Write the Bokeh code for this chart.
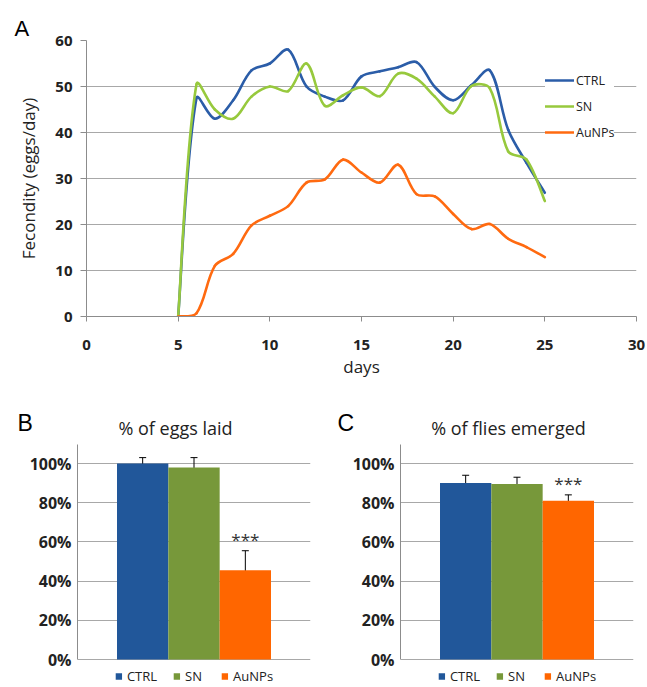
import math
from bokeh.plotting import figure
from bokeh.models import (Range1d, FactorRange, Legend, LegendItem, Whisker, Title, Label,
                          ColumnDataSource, FixedTicker, NumeralTickFormatter)
from bokeh.layouts import column, row
from bokeh.embed import file_html
from bokeh.resources import INLINE
from bokeh.core.properties import value

# ---------------- data ----------------
days = list(range(5, 26))
ctrl = [0, 47.5, 43, 47, 53.5, 55, 58, 50, 47.8, 47, 52.2, 53.3, 54.2, 55.3, 49.9, 47, 50.3, 53.5, 40.6, 33.4, 26.9]
sn = [0, 50.5, 45, 43, 47.8, 50, 49, 55, 45.8, 48.1, 49.8, 47.9, 52.8, 51.7, 47.8, 44.2, 50.1, 49.6, 35.9, 34.1, 25.1]
aunps = [0, 0.7, 11, 13.6, 19.8, 21.9, 24, 29.1, 29.8, 34.1, 31.3, 29.1, 33, 26.6, 26.1, 22.3, 19, 20.1, 16.9, 15.1, 12.9]

groups = ["CTRL", "SN", "AuNPs"]
eggs = [1.00, 0.98, 0.455]
eggs_err = [0.03, 0.05, 0.10]
flies = [0.90, 0.895, 0.81]
flies_err = [0.04, 0.035, 0.03]
signif = ["", "", "***"]

x_ticks = [0, 5, 10, 15, 20, 25, 30]
y_ticks = [0, 10, 20, 30, 40, 50, 60]
pct_ticks = [0, 0.2, 0.4, 0.6, 0.8, 1.0]

line_colors = ["#2B5DA8", "#97C93D", "#FF6A10"]
bar_colors = ["#21579A", "#77983A", "#FF6600"]

FONT = "Open Sans"
LETTER_FONT = "Liberation Sans"
GRID = "#a8a8a8"
AXIS = "#8c8c8c"
TXT = "#222222"

# screen pixels per data unit in panel A (used only to shape the smoothing)
PX_X = 550 / 30.0
PX_Y = 278 / 60.0


def smooth(xs, ys, tension=1.0 / 3):
    """Excel-like smoothed line: cubic bezier segments between the data points,
    with control arms weighted by neighbouring chord lengths."""
    n = len(xs)

    def dist(i, j):
        return math.hypot((xs[j] - xs[i]) * PX_X, (ys[j] - ys[i]) * PX_Y)

    out_c, in_c = [], []
    for i in range(n):
        a = max(i - 1, 0)
        b = min(i + 1, n - 1)
        dx, dy = xs[b] - xs[a], ys[b] - ys[a]
        lp = dist(a, i)
        ln = dist(i, b)
        if i == 0 or i == n - 1 or lp + ln == 0:
            fo = fi = 0.5
        else:
            fo = ln / (lp + ln)
            fi = lp / (lp + ln)
        out_c.append((xs[i] + dx * tension * fo, ys[i] + dy * tension * fo))
        in_c.append((xs[i] - dx * tension * fi, ys[i] - dy * tension * fi))

    seg = dict(x0=[], y0=[], x1=[], y1=[], cx0=[], cy0=[], cx1=[], cy1=[])
    for i in range(n - 1):
        seg["x0"].append(xs[i]); seg["y0"].append(ys[i])
        seg["x1"].append(xs[i + 1]); seg["y1"].append(ys[i + 1])
        seg["cx0"].append(out_c[i][0]); seg["cy0"].append(out_c[i][1])
        seg["cx1"].append(in_c[i + 1][0]); seg["cy1"].append(in_c[i + 1][1])
    return ColumnDataSource(seg)


# ---------------- panel A ----------------
pA = figure(width=647, height=380, x_range=Range1d(0, 30), y_range=Range1d(0, 60),
            output_backend="svg", toolbar_location=None,
            min_border_left=86, min_border_right=11, min_border_top=40, min_border_bottom=62)
pA.title = Title(text="A", align="left", offset=-72, standoff=0,
                 text_font=LETTER_FONT, text_font_size="22px",
                 text_font_style="normal", text_color="black")
pA.outline_line_color = None
pA.xgrid.visible = False
pA.ygrid.grid_line_color = GRID
pA.ygrid.grid_line_width = 1

items = []
for name, ys, col in zip(groups, [ctrl, sn, aunps], line_colors):
    r = pA.bezier(x0="x0", y0="y0", x1="x1", y1="y1", cx0="cx0", cy0="cy0", cx1="cx1", cy1="cy1",
                  source=smooth(days, ys), line_color=col, line_width=2.6, line_cap="round")
    items.append(LegendItem(label=name, renderers=[r]))

legA = Legend(items=items, location=(459, 174), orientation="vertical",
              glyph_width=29, glyph_height=20, label_height=20, label_standoff=2, spacing=6,
              padding=4, margin=0, border_line_color=None, background_fill_color="white",
              background_fill_alpha=1.0, label_text_font=FONT, label_text_font_size="12.5px",
              label_text_color=TXT)
pA.add_layout(legA, "center")

for ax in (pA.xaxis[0], pA.yaxis[0]):
    ax.axis_line_color = AXIS
    ax.major_tick_line_color = AXIS
    ax.minor_tick_line_color = None
    ax.major_tick_in = 0
    ax.major_label_text_font = FONT
    ax.major_label_text_font_size = "15px"
    ax.major_label_text_font_style = "bold"
    ax.major_label_text_color = TXT
    ax.axis_label_text_font = FONT
    ax.axis_label_text_font_size = "17px"
    ax.axis_label_text_font_style = "normal"
    ax.axis_label_text_color = TXT

pA.xaxis.ticker = FixedTicker(ticks=x_ticks)
pA.yaxis.ticker = FixedTicker(ticks=y_ticks)
pA.xaxis.major_tick_out = 5
pA.yaxis.major_tick_out = 6
pA.xaxis.major_label_standoff = 18
pA.yaxis.major_label_standoff = 8
pA.xaxis.axis_label = "days"
pA.yaxis.axis_label = "Fecondity (eggs/day)"
pA.xaxis.axis_label_standoff = 2
pA.yaxis.axis_label_standoff = 12


# ---------------- panels B and C ----------------
PX_PER_UNIT = 196.0        # screen px per 100 %
ZERO_FROM_BOTTOM = 28.0    # room for the legend under the 0 % line
FRAME_H = 243
HEAD_H = 64


def header(width, letter, letter_x, title, title_x):
    h = figure(width=width, height=HEAD_H, x_range=Range1d(0, width), y_range=Range1d(0, HEAD_H),
               output_backend="svg", toolbar_location=None, frame_align=False,
               min_border_left=0, min_border_right=0, min_border_top=0, min_border_bottom=0)
    h.axis.visible = False
    h.grid.visible = False
    h.outline_line_color = None
    h.add_layout(Label(x=letter_x, y=9, x_units="screen", y_units="screen", text=letter,
                       text_font=LETTER_FONT, text_font_size="23px", text_color="black"))
    h.add_layout(Label(x=title_x, y=5, x_units="screen", y_units="screen", text=title,
                       text_align="center", text_font=FONT, text_font_size="18px",
                       text_color=TXT))
    return h


def bar_panel(vals, errs, width, mleft, mright):
    src = ColumnDataSource(dict(
        cat=groups, val=vals, color=bar_colors, sig=signif,
        upper=[v + e for v, e in zip(vals, errs)],
        lower=[v - e for v, e in zip(vals, errs)]))
    y0 = -ZERO_FROM_BOTTOM / PX_PER_UNIT
    y1 = y0 + FRAME_H / PX_PER_UNIT
    p = figure(width=width, height=FRAME_H, x_range=FactorRange(factors=groups, range_padding=0.513),
               y_range=Range1d(y0, y1), output_backend="svg", toolbar_location=None,
               min_border_left=mleft, min_border_right=mright, min_border_top=0,
               min_border_bottom=0)
    p.outline_line_color = None
    p.xgrid.visible = False
    p.ygrid.grid_line_color = GRID
    p.xaxis.visible = False

    r = p.vbar(x="cat", top="val", bottom=0, width=1.0, source=src,
               fill_color="color", line_color=None)

    w = Whisker(base="cat", upper="upper", lower="lower", source=src,
                line_color="black", line_width=1)
    w.upper_head.size = 7
    w.lower_head.size = 7
    w.upper_head.line_color = "black"
    w.lower_head.line_color = "black"
    p.add_layout(w)

    p.text(x="cat", y="upper", text="sig", source=src, text_align="center",
           text_baseline="bottom", text_font=value(FONT),
           text_font_size="17px", text_color="#333333")

    ax = p.yaxis[0]
    ax.ticker = FixedTicker(ticks=pct_ticks)
    ax.formatter = NumeralTickFormatter(format="0%")
    ax.bounds = (0, 1.1)
    ax.axis_line_color = AXIS
    ax.major_tick_line_color = AXIS
    ax.minor_tick_line_color = None
    ax.major_tick_in = 0
    ax.major_tick_out = 0
    ax.major_label_standoff = 6
    ax.major_label_text_font = FONT
    ax.major_label_text_font_size = "16px"
    ax.major_label_text_font_style = "bold"
    ax.major_label_text_color = TXT

    leg = Legend(items=[LegendItem(label=g, renderers=[r], index=i) for i, g in enumerate(groups)],
                 orientation="horizontal", location="bottom_center", glyph_width=8, glyph_height=8,
                 label_height=14, label_standoff=5, spacing=15, padding=0, margin=2,
                 border_line_color=None, background_fill_alpha=0,
                 label_text_font=FONT, label_text_font_size="13px", label_text_color=TXT)
    p.add_layout(leg, "center")
    return p


hB = header(330, "B", 17, "% of eggs laid", 175)
pB = bar_panel(eggs, eggs_err, 330, 77, 20)
hC = header(317, "C", 7, "% of flies emerged", 178)
pC = bar_panel(flies, flies_err, 317, 70, 14)

layout = column(pA, row(column(hB, pB, spacing=0), column(hC, pC, spacing=0), spacing=0), spacing=0)

open("out.html", "w").write(file_html(layout, INLINE))
